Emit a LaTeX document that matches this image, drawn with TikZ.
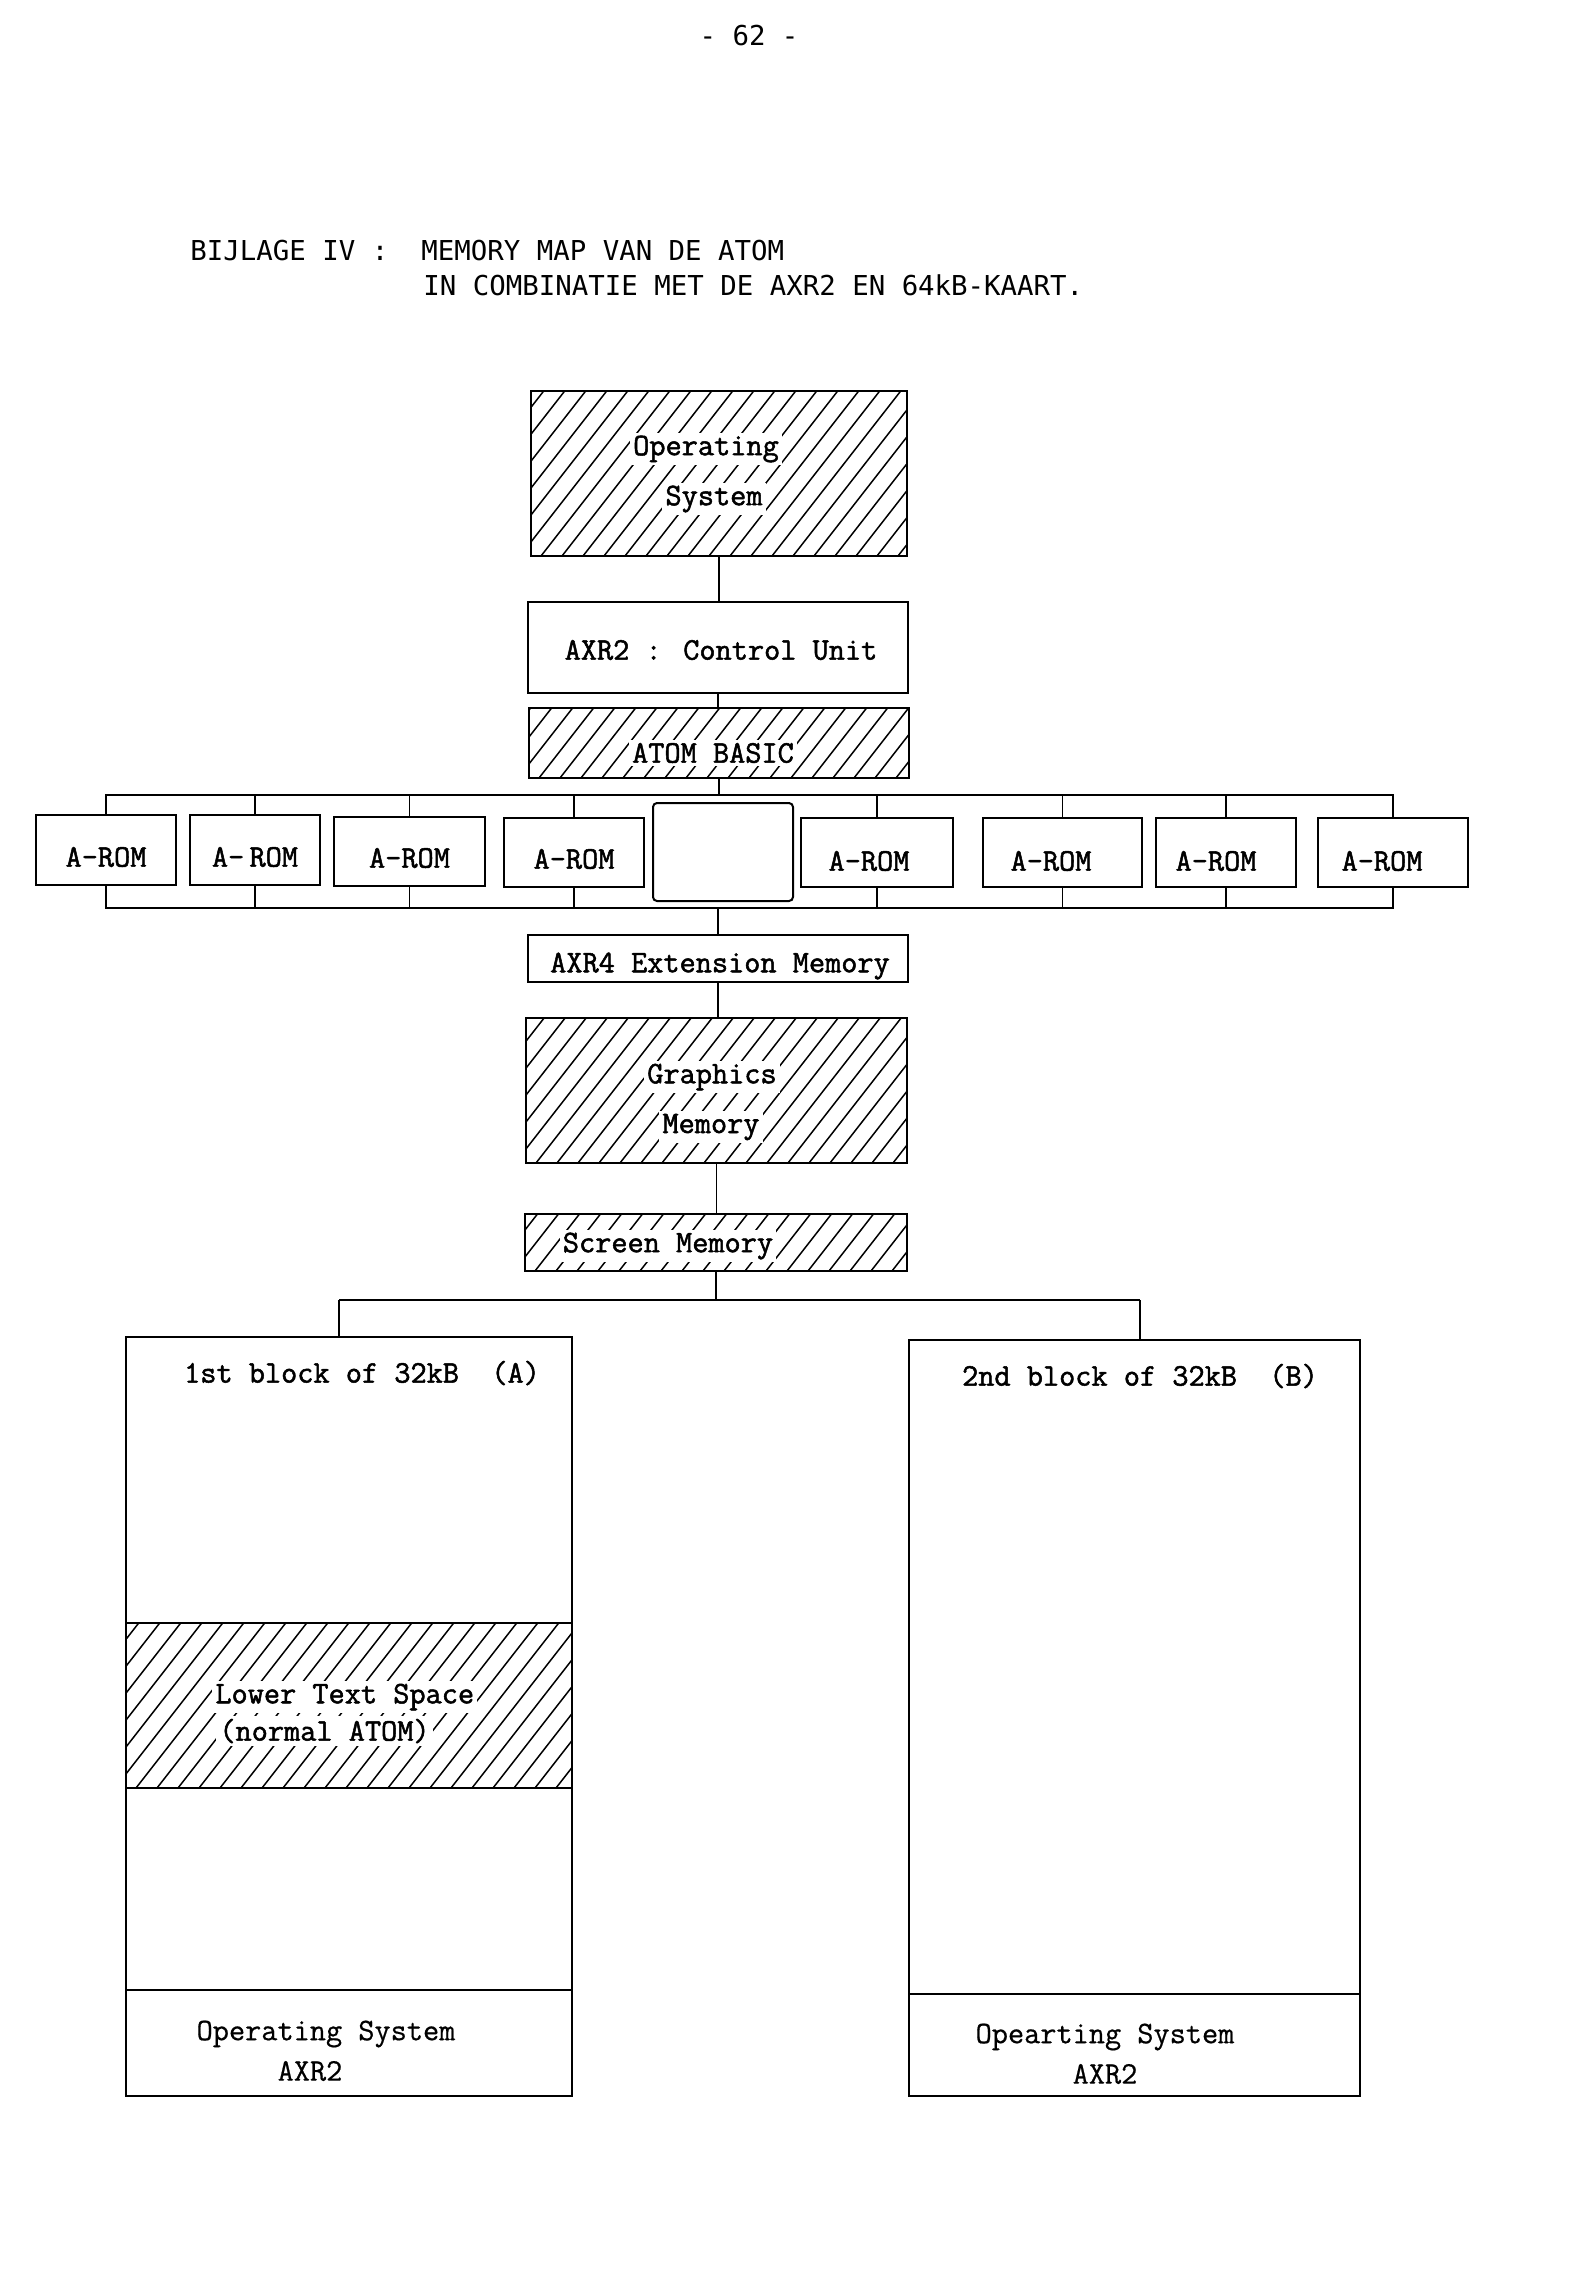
\documentclass[tikz,border=0pt]{standalone}
\usepackage{fontspec}
\newfontfamily\dm{DejaVu Sans Mono}
\newfontfamily\twb{Latin Modern Mono}[FakeBold=1.6]
\newfontfamily\twr{Latin Modern Mono}[FakeBold=0.6]
\tikzset{
  box/.style={draw, line width=1pt, rectangle, inner sep=0pt, outer sep=0pt},
  wh/.style 2 args={minimum width=#1*0.5pt, minimum height=#2*0.5pt},
  lbl/.style={font=\twb\fontsize{15.7}{18}\selectfont, inner sep=1.5pt},
  wlbl/.style={lbl, fill=white},
  thinlbl/.style={font=\twr\fontsize{15.7}{18}\selectfont, inner sep=1pt},
  titlelbl/.style={font=\dm\fontsize{13.7}{16}\selectfont, inner sep=0pt},
  con/.style={line width=0.9pt},
  hatchline/.style={line width=0.75pt},
}
\newcommand{\hatchrect}[4]{%
  \begin{scope}
    \clip (#1,#2) rectangle (#3,#4);
    \foreach \s in {-200,-179,...,520} {
      \draw[hatchline] ({#1+\s},{#4}) -- ++({0.78*(#4-#2)},{-(#4-#2)});
    }
  \end{scope}}
\begin{document}
\begin{tikzpicture}[x=0.5pt, y=-0.5pt]
\useasboundingbox (0,0) rectangle (1575,2288);

% header
\node[titlelbl] (pg) at (749,36) {- 62 -};
\node[titlelbl, anchor=west] (tl1) at (190,251) {BIJLAGE IV :\ \ MEMORY MAP VAN DE ATOM};
\node[titlelbl, anchor=west] (tl2) at (423,285) {IN COMBINATIE MET DE AXR2 EN 64kB-KAART.};

% hatching
\hatchrect{531}{391}{907}{556}
\hatchrect{529}{708}{909}{778}
\hatchrect{526}{1018}{907}{1163}
\hatchrect{525}{1214}{907}{1271}
\hatchrect{126}{1623}{572}{1788}

% central column
\node[box, wh={376}{165}] (os) at (719,473.5) {};
\node[box, wh={380}{91}] (axr2) at (718,647.5) {};
\node[box, wh={380}{70}] (basic) at (719,743) {};
\node[box, wh={380}{47}] (axr4) at (718,958.5) {};
\node[box, wh={381}{145}] (gfx) at (716.5,1090.5) {};
\node[box, wh={382}{57}] (scr) at (716,1242.5) {};

% ROM row
\node[box, wh={140}{70}] (rom1) at (106,850) {};
\node[box, wh={130}{70}] (rom2) at (255,850) {};
\node[box, wh={151}{69}] (rom3) at (409.5,851.5) {};
\node[box, wh={140}{69}] (rom4) at (574,852.5) {};
\node[box, wh={140}{98}, rounded corners=2pt] (mid) at (723,852) {};
\node[box, wh={152}{69}] (rom5) at (877,852.5) {};
\node[box, wh={159}{69}] (rom6) at (1062.5,852.5) {};
\node[box, wh={140}{69}] (rom7) at (1226,852.5) {};
\node[box, wh={150}{69}] (rom8) at (1393,852.5) {};

\node[lbl] (r1t) at (106,857) {A-ROM};
\node[lbl] (r2t) at (255,857) {A-\,ROM};
\node[lbl] (r3t) at (409.5,858) {A-ROM};
\node[lbl] (r4t) at (574,859) {A-ROM};
\node[lbl] (r5t) at (869,861) {A-ROM};
\node[lbl] (r6t) at (1051,861) {A-ROM};
\node[lbl] (r7t) at (1216,861) {A-ROM};
\node[lbl] (r8t) at (1382,861) {A-ROM};

% lower blocks
\node[box, wh={446}{286}] (la1) at (349,1480) {};
\node[box, wh={446}{165}] (la2) at (349,1705.5) {};
\node[box, wh={446}{202}] (la3) at (349,1889) {};
\node[box, wh={446}{106}] (la4) at (349,2043) {};
\node[box, wh={451}{654}] (rb1) at (1134.5,1667) {};
\node[box, wh={451}{102}] (rb2) at (1134.5,2045) {};

% labels
\node[wlbl] (ost1) at (706,449) {Operating};
\node[wlbl] (ost2) at (714,499) {System};
\node[lbl] (axt) at (721,650) {AXR2 : Control Unit};
\node[wlbl] (bst) at (713,753) {ATOM BASIC};
\node[lbl] (a4t) at (720,966) {AXR4 Extension Memory};
\node[wlbl] (gt1) at (712,1077) {Graphics};
\node[wlbl] (gt2) at (711,1127) {Memory};
\node[wlbl] (st) at (668,1246) {Screen Memory};
\node[lbl] (bat) at (362,1373) {1st block of 32kB\ \ (A)};
\node[lbl] (bbt) at (1140,1376) {2nd block of 32kB\ \ (B)};
\node[wlbl, anchor=west] (lt1) at (212,1697) {Lower Text Space};
\node[wlbl, anchor=west] (lt2) at (216,1731) {(normal ATOM)};
\node[thinlbl] (o1) at (326,2034) {Operating System};
\node[thinlbl] (o2) at (310,2071) {AXR2};
\node[thinlbl] (o3) at (1105,2037) {Opearting System};
\node[thinlbl] (o4) at (1105,2074) {AXR2};

% connectors
\coordinate (bt) at (0,795);
\coordinate (bb) at (0,908);
\coordinate (dl) at (339,1300);
\coordinate (dr) at (1140,1300);
\draw[con] (os.south) -- (os.south |- axr2.north);
\draw[con] (axr2.south) -- (axr2.south |- basic.north);
\draw[con] (basic.south) -- (basic.south |- bt);
\draw[con] (rom1.north) -- (rom1.north |- bt) -- (rom8.north |- bt) -- (rom8.north);
\foreach \r in {rom2,rom3,rom4,rom5,rom6,rom7} {
  \draw[con] (\r.north) -- (\r.north |- bt);
  \draw[con] (\r.south) -- (\r.south |- bb);
}
\draw[con] (rom1.south) -- (rom1.south |- bb) -- (rom8.south |- bb) -- (rom8.south);
\draw[con] (axr4.north) -- (axr4.north |- bb);
\draw[con] (axr4.south) -- (axr4.south |- gfx.north);
\draw[con] (gfx.south) -- (gfx.south |- scr.north);
\draw[con] (scr.south) -- (scr.south |- dl);
\draw[con] (dl) -- (dr);
\draw[con] (dl) -- (dl |- la1.north);
\draw[con] (dr) -- (dr |- rb1.north);
\end{tikzpicture}
\end{document}
